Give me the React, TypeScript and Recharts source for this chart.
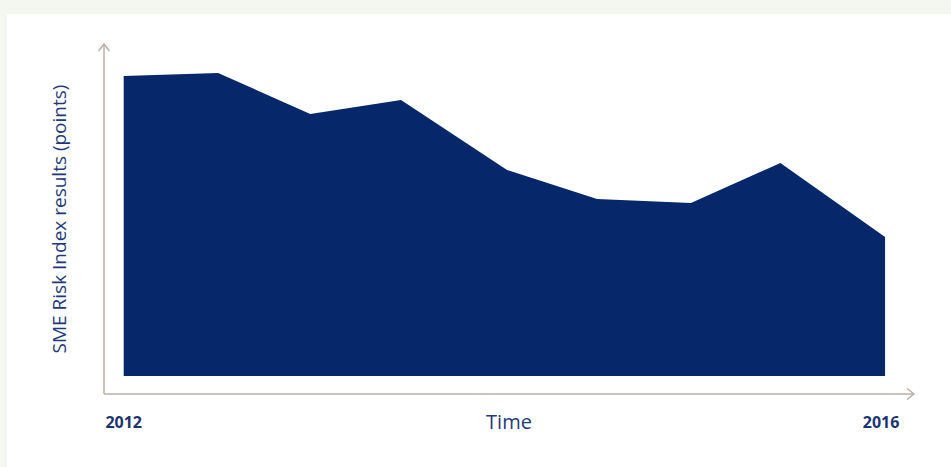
import { Area, AreaChart, Label, XAxis, YAxis } from 'recharts'

// half-year readings, x in years
const timeline = [2012, 2012.496, 2012.98, 2013.457, 2014.014, 2014.487, 2014.98, 2015.45, 2016]
const riskIndex = [300, 303, 262, 276, 206, 177, 173, 213, 139]
const yearTicks = [2012, 2016]

const data = timeline.map((t, i) => ({ t, value: riskIndex[i] }))

const NAVY = '#062769'
const TEXT = '#1e3a78'
const AXIS = '#b8b0a7'
const FONT = '"Open Sans", "Noto Sans", sans-serif'

function YearTick({ x, y, payload }: { x?: number; y?: number; payload?: { value: number } }) {
  const last = payload?.value === yearTicks[yearTicks.length - 1]
  return (
    <text
      x={(x ?? 0) + (last ? -4 : 0)}
      y={y}
      dy="0.71em"
      textAnchor="middle"
      fill="#1a3470"
      fontSize={16}
      fontWeight={700}
      fontFamily={FONT}
    >
      {payload?.value}
    </text>
  )
}

export default function App() {
  return (
    <div
      style={{
        position: 'absolute',
        left: 0,
        top: 0,
        width: 951,
        height: 467,
        background: '#f4f6f0',
        overflow: 'hidden',
        fontFamily: FONT,
      }}
    >
      <div
        style={{
          position: 'absolute',
          left: 7,
          top: 14,
          right: 0,
          bottom: 0,
          background: '#ffffff',
        }}
      />
      <div style={{ position: 'absolute', left: 0, top: 0 }}>
        <AreaChart
          width={951}
          height={467}
          data={data}
          margin={{ top: 44, right: 37, bottom: 13, left: 14 }}
        >
          <defs>
            <marker
              id="axis-arrow"
              markerUnits="userSpaceOnUse"
              markerWidth={12}
              markerHeight={16}
              refX={8}
              refY={7}
              orient="auto-start-reverse"
              overflow="visible"
            >
              <path d="M1,1.5 L8,7 L1,12.5" fill="none" stroke={AXIS} strokeWidth={1.5} />
            </marker>
          </defs>
          <XAxis
            dataKey="t"
            type="number"
            domain={[2011.8965, 2016.152]}
            allowDataOverflow
            ticks={yearTicks}
            tickSize={0}
            tickMargin={23}
            tickLine={false}
            height={60}
            axisLine={{ stroke: AXIS, strokeWidth: 1.5, markerEnd: 'url(#axis-arrow)' }}
            tick={<YearTick />}
          >
            <Label
              value="Time"
              position="center"
              fill={TEXT}
              fontSize={20}
              fontFamily={FONT}
              dy={-2}
            />
          </XAxis>
          <YAxis
            type="number"
            domain={[-18, 332]}
            allowDataOverflow
            tick={false}
            tickLine={false}
            width={90}
            axisLine={{ stroke: AXIS, strokeWidth: 1.5, markerStart: 'url(#axis-arrow)' }}
          >
            <Label
              value="SME Risk Index results (points)"
              position="center"
              angle={-90}
              fill={TEXT}
              fontSize={19}
              fontFamily={FONT}
            />
          </YAxis>
          <Area
            type="linear"
            dataKey="value"
            baseValue={0}
            stroke="none"
            fill={NAVY}
            fillOpacity={1}
            isAnimationActive={false}
          />
        </AreaChart>
      </div>
    </div>
  )
}
